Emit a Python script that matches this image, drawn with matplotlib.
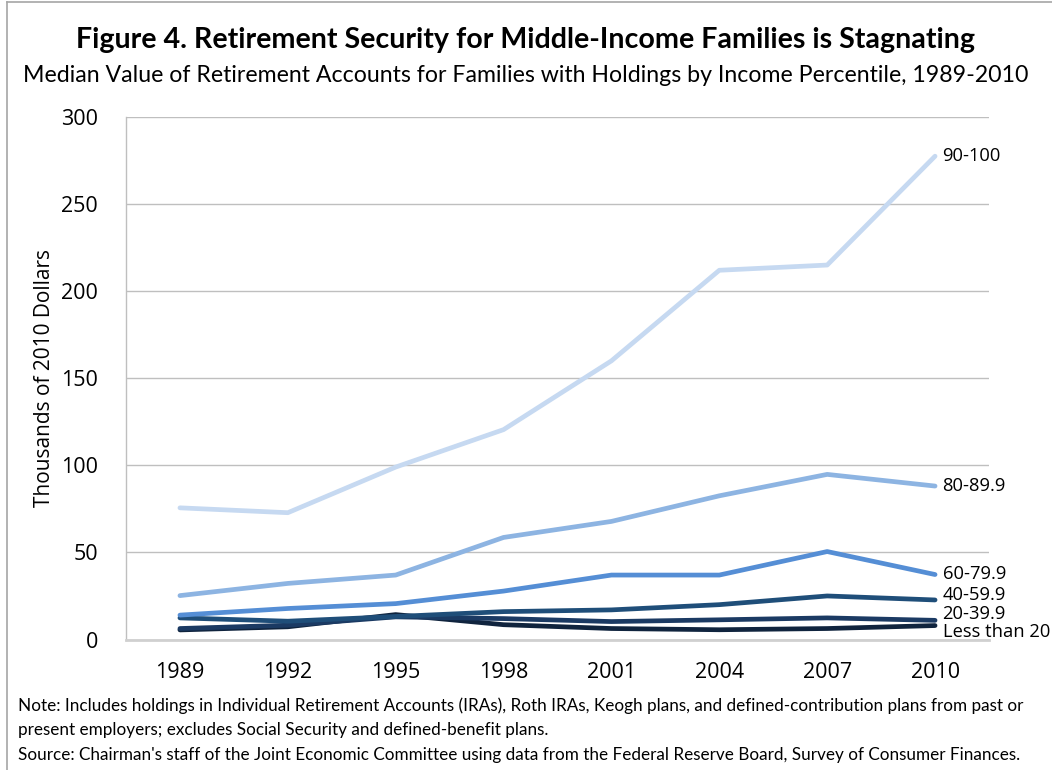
import matplotlib
matplotlib.use("Agg")
import matplotlib.pyplot as plt
from matplotlib.lines import Line2D

years = ["1989", "1992", "1995", "1998", "2001", "2004", "2007", "2010"]

# Median value of retirement accounts, thousands of 2010 dollars
top_90_100 = [75.6, 72.8, 99.0, 120.5, 160.0, 212.0, 215.0, 277.5]
pct_80_89 = [25.2, 32.2, 37.0, 58.6, 67.8, 82.5, 94.8, 88.1]
pct_60_79 = [14.0, 17.8, 20.6, 27.8, 37.0, 37.0, 50.5, 37.3]
pct_40_59 = [12.4, 10.5, 13.2, 16.0, 17.0, 20.0, 25.0, 22.7]
pct_20_39 = [6.3, 8.2, 13.0, 12.0, 10.3, 11.3, 12.4, 11.0]
pct_lt_20 = [5.5, 7.3, 14.3, 8.5, 6.3, 5.6, 6.3, 8.0]

series_names = ["90-100", "80-89.9", "60-79.9", "40-59.9", "20-39.9", "Less than 20"]
series_values = [top_90_100, pct_80_89, pct_60_79, pct_40_59, pct_20_39, pct_lt_20]
series_colors = ["#C6D9F1", "#8DB4E2", "#558ED5", "#1F4E79", "#1B3A63", "#10243E"]
# vertical position of each end label (data units), spread to avoid overlap
label_y = [277.5, 88.1, 37.5, 25.5, 14.5, 4.3]

y_ticks = [0, 50, 100, 150, 200, 250, 300]

title = "Figure 4. Retirement Security for Middle-Income Families is Stagnating"
subtitle = "Median Value of Retirement Accounts for Families with Holdings by Income Percentile, 1989-2010"
y_label = "Thousands of 2010 Dollars"
notes = [
    "Note: Includes holdings in Individual Retirement Accounts (IRAs), Roth IRAs, Keogh plans, and defined-contribution plans from past or",
    "present employers; excludes Social Security and defined-benefit plans.",
    "Source: Chairman's staff of the Joint Economic Committee using data from the Federal Reserve Board, Survey of Consumer Finances.",
]

W, H = 1052, 770
fig = plt.figure(figsize=(W / 100, H / 100), dpi=100)
fig.patch.set_facecolor("white")

# frame around the chart
fig.add_artist(Line2D([7 / W, 7 / W], [0, 1 - 1.5 / H], transform=fig.transFigure,
                      color="#A6A6A6", lw=1.2))
fig.add_artist(Line2D([7 / W, 1], [1 - 1.5 / H, 1 - 1.5 / H], transform=fig.transFigure,
                      color="#A6A6A6", lw=1.2))

left, right = 126 / W, 989 / W
bottom, top = 1 - 639.5 / H, 1 - 117 / H
ax = fig.add_axes([left, bottom, right - left, top - bottom])

x = list(range(len(years)))
for vals, col in zip(series_values[::-1], series_colors[::-1]):
    ax.plot(x, vals, color=col, lw=3.4, solid_capstyle="round", solid_joinstyle="round", zorder=3)

for name, ly in zip(series_names, label_y):
    ax.text(len(years) - 1 + 0.07, ly, name, fontsize=13.2, family="Open Sans",
            color="black", va="center", ha="left", zorder=4)

ax.set_xlim(-0.5, len(years) - 0.5)
ax.set_ylim(0, 300)
ax.set_yticks(y_ticks)
ax.set_xticks(x)
ax.set_xticklabels(years)
ax.grid(axis="y", color="#BFBFBF", lw=1.0)
ax.set_axisbelow(True)
for s in ["top", "right"]:
    ax.spines[s].set_visible(False)
ax.spines["left"].set_color("#BFBFBF")
ax.spines["left"].set_linewidth(1.0)
ax.spines["bottom"].set_color("#D0D0D0")
ax.spines["bottom"].set_linewidth(2.0)
ax.tick_params(axis="both", length=0, labelsize=15.5, colors="black")
ax.tick_params(axis="y", pad=20)
ax.tick_params(axis="x", pad=16)
for lab in ax.get_xticklabels() + ax.get_yticklabels():
    lab.set_family("Open Sans")

ax.set_ylabel(y_label, fontsize=15, family="Open Sans")
ax.yaxis.set_label_coords(-0.082, 0.5)

fig.text(0.5, 1 - 40 / H, title, ha="center", va="center", fontsize=20.6,
         fontweight="bold", family="Lato")
fig.text(0.5, 1 - 75 / H, subtitle, ha="center", va="center", fontsize=16.7, family="Lato")

for i, line in enumerate(notes):
    fig.text(18 / W, 1 - (706 + i * 24.5) / H, line, ha="left", va="center",
             fontsize=12.3, family="Lato")

fig.savefig("out.png", dpi=100)
